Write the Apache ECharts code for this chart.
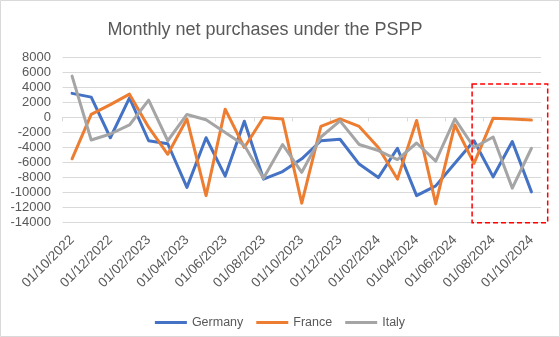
<!DOCTYPE html>
<html>
<head>
<meta charset="utf-8">
<script src="https://cdn.jsdelivr.net/npm/echarts@6/dist/echarts.min.js"></script>
<style>
  html, body { margin: 0; padding: 0; background: #ffffff; }
  #chart { width: 560px; height: 337px; }
</style>
</head>
<body>
<div id="chart"></div>
<script>
// Monthly PSPP net purchases (EUR million), Oct 2022 - Oct 2024
const months = [
  '01/10/2022', '01/11/2022', '01/12/2022', '01/01/2023', '01/02/2023',
  '01/03/2023', '01/04/2023', '01/05/2023', '01/06/2023', '01/07/2023',
  '01/08/2023', '01/09/2023', '01/10/2023', '01/11/2023', '01/12/2023',
  '01/01/2024', '01/02/2024', '01/03/2024', '01/04/2024', '01/05/2024',
  '01/06/2024', '01/07/2024', '01/08/2024', '01/09/2024', '01/10/2024'
];
const germany = [3200, 2700, -2700, 2600, -3100, -3500, -9300, -2700, -7800, -500,
  -8200, -7200, -5500, -3100, -2900, -6200, -8000, -4100, -10400, -9100,
  -6100, -3100, -7900, -3200, -9900];
const france = [-5500, 400, 1700, 3100, -1300, -4900, -200, -10400, 1100, -4000,
  0, -200, -11400, -1200, -200, -1200, -4000, -8200, -400, -11500,
  -1000, -6100, -100, -200, -350];
const italy = [5500, -3000, -2200, -1000, 2300, -3100, 400, -300, -2000, -3700,
  -8100, -3600, -7300, -2600, -450, -3600, -4400, -5600, -3400, -5800,
  -200, -4000, -2600, -9400, -4100];
const yTicks = { min: -14000, max: 8000, step: 2000 };

const textColor = '#595959';
const gridColor = '#d9d9d9';
const font = 'Liberation Sans';

const chart = echarts.init(document.getElementById('chart'), null, { renderer: 'canvas' });

function lineSeries(name, data, color) {
  return {
    name: name,
    type: 'line',
    data: data,
    symbol: 'none',
    color: color,
    lineStyle: { width: 3, color: color, cap: 'round', join: 'round' },
    emphasis: { disabled: true },
    z: 3
  };
}

chart.setOption({
  animation: false,
  backgroundColor: '#ffffff',
  title: {
    text: 'Monthly net purchases under the PSPP',
    left: 260,
    top: 16,
    textAlign: 'center',
    textStyle: { fontFamily: font, fontSize: 18, fontWeight: 'normal', color: textColor }
  },
  grid: { left: 62.5, right: 19, top: 57.3, bottom: 114.3, containLabel: false },
  legend: {
    data: ['Germany', 'France', 'Italy'],
    left: 'center',
    top: 311,
    icon: 'rect',
    itemWidth: 32,
    itemHeight: 3,
    itemGap: 13,
    textStyle: { fontFamily: font, fontSize: 12.5, color: textColor }
  },
  xAxis: [
    {
      type: 'category',
      data: months,
      boundaryGap: true,
      position: 'bottom',
      axisLine: { show: false, onZero: false },
      axisTick: { show: false },
      axisLabel: {
        interval: 1,
        rotate: 45,
        margin: 15,
        fontFamily: font,
        fontSize: 13.5,
        color: textColor
      }
    },
    {
      // zero line with tick marks every two months
      type: 'category',
      data: months,
      boundaryGap: true,
      position: 'bottom',
      axisLine: { show: true, onZero: true, lineStyle: { color: gridColor, width: 1 } },
      axisTick: { show: true, interval: 1, length: 4, lineStyle: { color: gridColor, width: 1 } },
      axisLabel: { show: false }
    }
  ],
  yAxis: {
    type: 'value',
    min: yTicks.min,
    max: yTicks.max,
    interval: yTicks.step,
    axisLine: { show: false },
    axisTick: { show: false },
    splitLine: { lineStyle: { color: gridColor, width: 1 } },
    axisLabel: {
      margin: 11.5,
      fontFamily: font,
      fontSize: 13,
      color: textColor,
      formatter: function (v) { return String(v); }
    }
  },
  series: [
    lineSeries('Germany', germany, '#4472C4'),
    lineSeries('France', france, '#ED7D31'),
    lineSeries('Italy', italy, '#A5A5A5')
  ]
});

// Highlight box around the last months, placed from axis coordinates
function drawBox() {
  const step = chart.convertToPixel({ xAxisIndex: 0 }, months[1]) - chart.convertToPixel({ xAxisIndex: 0 }, months[0]);
  const xStart = chart.convertToPixel({ xAxisIndex: 0 }, months[21]) - 0.1 * step;
  const xEnd = chart.convertToPixel({ xAxisIndex: 0 }, months[24]) + 0.85 * step;
  const yTop = chart.convertToPixel({ yAxisIndex: 0 }, 4450);
  const yBottom = chart.convertToPixel({ yAxisIndex: 0 }, yTicks.min);
  chart.setOption({
    graphic: [
      {
        type: 'rect',
        shape: { x: 0.5, y: 0.5, width: 559, height: 336 },
        style: { fill: 'none', stroke: gridColor, lineWidth: 1 },
        silent: true,
        z: 0
      },
      {
        type: 'rect',
        shape: { x: xStart, y: yTop, width: xEnd - xStart, height: yBottom - yTop },
        style: { fill: 'none', stroke: '#FF0000', lineWidth: 1.5, lineDash: [5, 3] },
        silent: true,
        z: 10
      }
    ]
  });
}
drawBox();
</script>
</body>
</html>
